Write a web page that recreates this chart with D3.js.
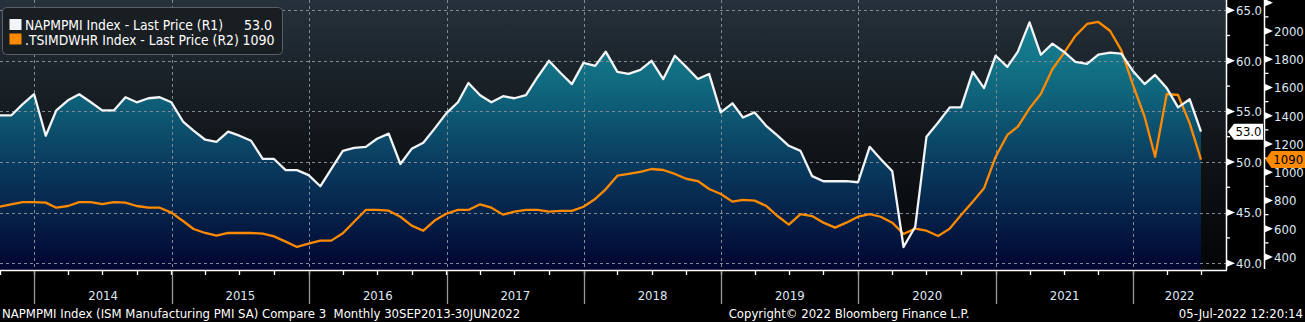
<!DOCTYPE html>
<html><head><meta charset="utf-8">
<script src="https://cdn.jsdelivr.net/npm/d3@7"></script>
<style>
html,body{margin:0;padding:0;background:#000;overflow:hidden}
svg{display:block}
text{font-family:"DejaVu Sans Condensed","DejaVu Sans",sans-serif;white-space:pre}
</style></head><body>
<svg id="c" width="1305" height="322"></svg>
<script>
// ---- data ----
const pmi = [54.6,54.6,55.7,56.7,52.6,55.1,56.1,56.7,55.9,55.1,55.1,56.4,55.9,56.3,56.4,55.9,54.0,53.1,52.2,52.0,
  53.0,52.6,52.1,50.3,50.3,49.2,49.2,48.7,47.6,49.3,51.1,51.4,51.5,52.3,52.8,49.8,51.3,51.9,53.3,54.8,
  55.9,57.8,56.6,55.9,56.5,56.3,56.6,58.4,60.0,58.8,57.7,59.8,59.5,60.9,58.9,58.7,59.1,60.0,58.2,60.5,
  59.4,58.2,58.7,54.9,55.8,54.4,54.9,53.6,52.6,51.6,51.1,48.6,48.1,48.1,48.1,48.0,51.5,50.3,
  49.1,41.6,43.6,52.5,53.9,55.4,55.4,58.9,57.3,60.5,59.4,60.9,63.8,60.6,61.7,60.9,59.9,59.7,60.6,60.8,
  60.7,59.0,57.7,58.6,57.3,55.4,56.2,53.0];
const tsmc = [756,773,789,789,785,749,761,789,789,775,789,785,761,749,749,714,655,598,570,551,
  570,570,570,565,546,509,471,494,516,516,568,650,733,733,728,685,622,586,658,706,
  733,733,773,749,700,721,733,733,721,726,726,756,811,879,976,988,1002,1023,1016,988,
  954,938,881,846,792,804,799,763,690,629,704,690,643,608,643,685,704,685,
  643,563,601,586,549,601,697,792,886,1110,1264,1323,1452,1554,1731,1842,1965,2050,2064,2002,
  1865,1618,1393,1110,1554,1547,1346,1090];
const firstMonthEnd = [2013, 9];   // Sep 2013 (month-end observations)
const years = [2014,2015,2016,2017,2018,2019,2020,2021,2022];
const r1Ticks = [40,45,50,55,60,65];
const r1Minor = [42.5,47.5,52.5,57.5,62.5];
const r2Ticks = [400,600,800,1000,1200,1400,1600,1800,2000,2200];
const r2Minor = [500,700,900,1100,1300,1500,1700,1900,2100];
const legendNames = ["NAPMPMI Index - Last Price (R1)", ".TSIMDWHR Index - Last Price (R2)"];
const legendValues = ["53.0", "1090"];
const footerLeft = "NAPMPMI Index (ISM Manufacturing PMI SA) Compare 3  Monthly 30SEP2013-30JUN2022";
const footerMid = "Copyright\u00A9 2022 Bloomberg Finance L.P.";
const footerRight = "05-Jul-2022 12:20:14";

// ---- layout ----
const W = 1305, H = 322;
const PR = 1226, PB = 270;   // plot right edge, plot bottom
const svg = d3.select("#c");
const WHITE = "#f2f4f6", ORANGE = "#ff8a00", LBL = "#dde8f4";

const dates = d3.range(pmi.length).map(i =>
  d3.utcDay.offset(d3.utcMonth.offset(new Date(Date.UTC(firstMonthEnd[0], firstMonthEnd[1], 1)), i), -1));

const x = d3.scaleUtc().domain([dates[0], dates[dates.length-1]]).range([-0.5, 1201]);
const y1 = d3.scaleLinear().domain([40, 65]).range([263.2, 10.2]);
const y2 = d3.scaleLinear().domain([400, 2000]).range([257, 31]);

const defs = svg.append("defs");
const bgG = defs.append("linearGradient").attr("id","bg").attr("x1",0).attr("x2",0).attr("y1",0).attr("y2",1);
[[0,"#25313b"],[0.5,"#12171b"],[1,"#030405"]].forEach(s=>bgG.append("stop").attr("offset",s[0]).attr("stop-color",s[1]));
const arG = defs.append("linearGradient").attr("id","ar").attr("gradientUnits","userSpaceOnUse")
  .attr("x1",0).attr("x2",0).attr("y1",0).attr("y2",PB);
[[0,"#1a8d9c"],[0.3,"#106b80"],[0.6,"#0a3c60"],[1,"#010530"]].forEach(s=>arG.append("stop").attr("offset",s[0]).attr("stop-color",s[1]));
defs.append("clipPath").attr("id","clip").append("rect").attr("x",0).attr("y",0).attr("width",PR).attr("height",PB);

svg.append("rect").attr("width",W).attr("height",H).attr("fill","#000");
svg.append("rect").attr("x",0).attr("y",0).attr("width",PR).attr("height",PB).attr("fill","url(#bg)");

const plot = svg.append("g").attr("clip-path","url(#clip)");
plot.append("path").datum(pmi)
  .attr("d", d3.area().x((d,i)=>x(dates[i])).y0(PB).y1(d=>y1(d)))
  .attr("fill","url(#ar)");

// grid
plot.selectAll("line.hg").data(r1Ticks).join("line")
  .attr("x1",0).attr("x2",PR).attr("y1",d=>Math.round(y1(d))+0.5).attr("y2",d=>Math.round(y1(d))+0.5)
  .attr("stroke","#7f8a94").attr("stroke-dasharray","3,3").attr("stroke-width",1);
plot.selectAll("line.vg").data(years).join("line")
  .attr("x1",d=>Math.round(x(new Date(Date.UTC(d,0,1))))+0.5).attr("x2",d=>Math.round(x(new Date(Date.UTC(d,0,1))))+0.5)
  .attr("y1",0).attr("y2",PB)
  .attr("stroke","#7f8a94").attr("stroke-dasharray","3,3").attr("stroke-width",1);

const line1 = d3.line().x((d,i)=>x(dates[i])).y(d=>y1(d));
const line2 = d3.line().x((d,i)=>x(dates[i])).y(d=>y2(d));
plot.append("path").datum(tsmc).attr("d",line2).attr("fill","none").attr("stroke",ORANGE).attr("stroke-width",2.3).attr("stroke-linejoin","round");
plot.append("path").datum(pmi).attr("d",line1).attr("fill","none").attr("stroke",WHITE).attr("stroke-width",2.3).attr("stroke-linejoin","round");

// x axis
svg.append("line").attr("x1",0).attr("x2",PR+1).attr("y1",PB+0.5).attr("y2",PB+0.5).attr("stroke","#fff").attr("stroke-width",1.5);
const quarters = d3.utcMonth.every(3).range(new Date(Date.UTC(2013,9,1)), new Date(Date.UTC(2022,6,2)))
  .map(d=>d3.utcDay.offset(d,-1));
svg.selectAll("line.qt").data(quarters).join("line")
  .attr("x1",d=>Math.round(x(d))+0.5).attr("x2",d=>Math.round(x(d))+0.5)
  .attr("y1",PB).attr("y2",PB+5).attr("stroke","#fff").attr("stroke-width",1.3);
svg.selectAll("line.yd").data(years).join("line")
  .attr("x1",d=>Math.round(x(new Date(Date.UTC(d,0,1))))+0.5).attr("x2",d=>Math.round(x(new Date(Date.UTC(d,0,1))))+0.5)
  .attr("y1",PB+1).attr("y2",304).attr("stroke","#9a9a9a").attr("stroke-width",1.3);
svg.selectAll("text.yl").data(years).join("text")
  .attr("x",d=>{const a=x(new Date(Date.UTC(d,0,1))); const b=(d===years[years.length-1])?PR:x(new Date(Date.UTC(d+1,0,1))); return (a+b)/2;})
  .attr("y",300).attr("text-anchor","middle").attr("fill",LBL).attr("font-size",13).text(d=>String(d));

// R1 axis
svg.append("line").attr("x1",PR+0.5).attr("x2",PR+0.5).attr("y1",0).attr("y2",PB).attr("stroke","#fff").attr("stroke-width",1.5);
const r1g = svg.append("g");
r1g.selectAll("path").data(r1Ticks).join("path")
  .attr("d",d=>{const yy=y1(d); return `M${PR+1},${yy-3.5}L${PR+9},${yy}L${PR+1},${yy+3.5}Z`;}).attr("fill","#fff");
r1g.selectAll("text").data(r1Ticks).join("text")
  .attr("x",PR+10).attr("y",d=>y1(d)+4.8).attr("fill",LBL).attr("font-size",13).text(d=>d.toFixed(1));
r1g.selectAll("line").data(r1Minor).join("line")
  .attr("x1",PR).attr("x2",PR+4).attr("y1",d=>y1(d)).attr("y2",d=>y1(d)).attr("stroke","#fff").attr("stroke-width",1.3);

// R2 axis
const AX2 = 1264.5;
svg.append("line").attr("x1",AX2).attr("x2",AX2).attr("y1",0).attr("y2",PB-1).attr("stroke","#fff").attr("stroke-width",1.5);
const r2g = svg.append("g");
r2g.selectAll("path").data(r2Ticks).join("path")
  .attr("d",d=>{const yy=y2(d); return `M${AX2+0.5},${yy-3.5}L${AX2+8.5},${yy}L${AX2+0.5},${yy+3.5}Z`;}).attr("fill","#fff");
r2g.selectAll("text").data(r2Ticks.filter(d=>y2(d)>8)).join("text")
  .attr("x",AX2+9.5).attr("y",d=>y2(d)+4.8).attr("fill",LBL).attr("font-size",13).text(d=>String(d));
r2g.selectAll("line").data(r2Minor).join("line")
  .attr("x1",AX2).attr("x2",AX2+4).attr("y1",d=>y2(d)).attr("y2",d=>y2(d)).attr("stroke","#fff").attr("stroke-width",1.3);

// last value tags
function tag(xl, xr, yc, h, fill, txt){
  const g = svg.append("g");
  g.append("path").attr("d",`M${xl},${yc}L${xl+6},${yc-h/2}L${xr},${yc-h/2}L${xr},${yc+h/2}L${xl+6},${yc+h/2}Z`).attr("fill",fill);
  g.append("text").attr("x",(xl+6+xr)/2).attr("y",yc+4.8).attr("text-anchor","middle").attr("fill","#000").attr("font-size",13).text(txt);
}
tag(PR+2, 1263, y1(pmi[pmi.length-1]), 16, "#ffffff", legendValues[0]);
tag(AX2+1, 1305, y2(tsmc[tsmc.length-1]), 17, ORANGE, legendValues[1]);

// legend
const lg = svg.append("g");
lg.append("rect").attr("x",2.5).attr("y",7.5).attr("width",280).attr("height",47).attr("rx",4)
  .attr("fill","#191e23").attr("stroke","#5a5f66").attr("stroke-width",1);
const nameTexts = [];
[[WHITE,0],[ORANGE,1]].forEach(([c,i])=>{
  const base = 30 + i*14.5;
  lg.append("rect").attr("x",9.5).attr("y",base-11).attr("width",12).attr("height",11).attr("fill",c);
  nameTexts.push(lg.append("text").attr("x",25).attr("y",base).attr("fill","#fff").attr("font-size",14).text(legendNames[i]));
  lg.append("text").attr("x",i===0?272:274.5).attr("y",base).attr("text-anchor","end").attr("fill","#fff").attr("font-size",14).text(legendValues[i]);
});
// fit the legend names to the width they take in the reference (row 2 ends near x=241)
const w2 = nameTexts[1].node().getComputedTextLength();
const fs = Math.min(14, 14 * 214 / w2);
nameTexts.forEach(t=>t.attr("font-size",fs));

// footer
svg.append("text").attr("x",2).attr("y",318).attr("fill","#fff").attr("font-size",13).text(footerLeft);
svg.append("text").attr("x",849).attr("y",318).attr("text-anchor","middle").attr("fill","#fff").attr("font-size",13).text(footerMid);
svg.append("text").attr("x",1303).attr("y",318).attr("text-anchor","end").attr("fill","#fff").attr("font-size",13).text(footerRight);
</script>
</body></html>
